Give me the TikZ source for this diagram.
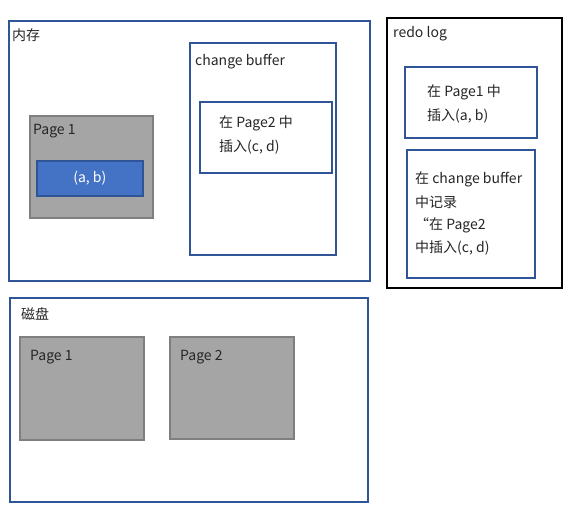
\documentclass[tikz,border=0pt]{standalone}
\usepackage{fontspec}
\setmainfont{Noto Sans CJK SC}
\definecolor{bord}{HTML}{2F5597}
\definecolor{bluef}{HTML}{4472C4}
\definecolor{grayf}{HTML}{A5A5A5}
\definecolor{grayb}{HTML}{7F7F7F}
\definecolor{txt}{HTML}{262626}
\tikzset{
  box/.style={draw=bord, line width=1.7pt, fill=white, rectangle, anchor=north west, inner sep=0pt},
  blackbox/.style={draw=black, line width=2pt, fill=white, rectangle, anchor=north west, inner sep=0pt},
  graybox/.style={draw=grayb, line width=1.6pt, fill=grayf, rectangle, anchor=north west, inner sep=0pt},
  bluebox/.style={draw=bord, line width=1.6pt, fill=bluef, rectangle, anchor=north west, inner sep=0pt},
  lbl/.style={anchor=west, inner sep=0pt, text=txt, font=\fontsize{14}{16}\selectfont},
}
\begin{document}
\begin{tikzpicture}[x=1pt,y=-1pt]
\useasboundingbox[fill=white] (0,0) rectangle (577,511);
% memory
\node[box, minimum width=361pt, minimum height=260pt] (mem) at (8,20) {};
\node[lbl] (memL) at (12,35) {内存};
\node[graybox, minimum width=123pt, minimum height=102pt] (p1) at (29,115) {};
\node[lbl] (p1L) at (33,131) {Page 1};
\node[bluebox, minimum width=106pt, minimum height=35pt, text=white, font=\fontsize{14}{16}\selectfont, anchor=north west] (ab) at (36,160) {(a, b)};
\node[box, minimum width=146pt, minimum height=212pt] (cb) at (189,42) {};
\node[lbl] (cbL) at (195,62) {change buffer};
\node[box, minimum width=132pt, minimum height=71pt] (cbi) at (199,101) {};
\node[lbl] (cbi1) at (219,123) {在 Page2 中};
\node[lbl] (cbi2) at (219,147) {插入(c, d)};
% redo log
\node[blackbox, minimum width=175pt, minimum height=270pt] (redo) at (386,17) {};
\node[lbl] (redoL) at (393,34) {redo log};
\node[box, minimum width=132pt, minimum height=71pt] (r1) at (404,66) {};
\node[lbl] (r1a) at (427,92) {在 Page1 中};
\node[lbl] (r1b) at (427,116) {插入(a, b)};
\node[box, minimum width=128pt, minimum height=128pt] (r2) at (406,149) {};
\node[lbl] (r2a) at (415,179) {在 change buffer};
\node[lbl] (r2b) at (415,202) {中记录};
\node[lbl] (r2c) at (415,225) {“在 Page2};
\node[lbl] (r2d) at (415,248) {中插入(c, d)};
% disk
\node[box, minimum width=358pt, minimum height=204pt] (disk) at (9,297) {};
\node[lbl] (diskL) at (21,314) {磁盘};
\node[graybox, minimum width=124pt, minimum height=103pt] (d1) at (19,336) {};
\node[lbl] (d1L) at (30,357) {Page 1};
\node[graybox, minimum width=124pt, minimum height=102pt] (d2) at (169,336) {};
\node[lbl] (d2L) at (180,357) {Page 2};
\end{tikzpicture}
\end{document}
